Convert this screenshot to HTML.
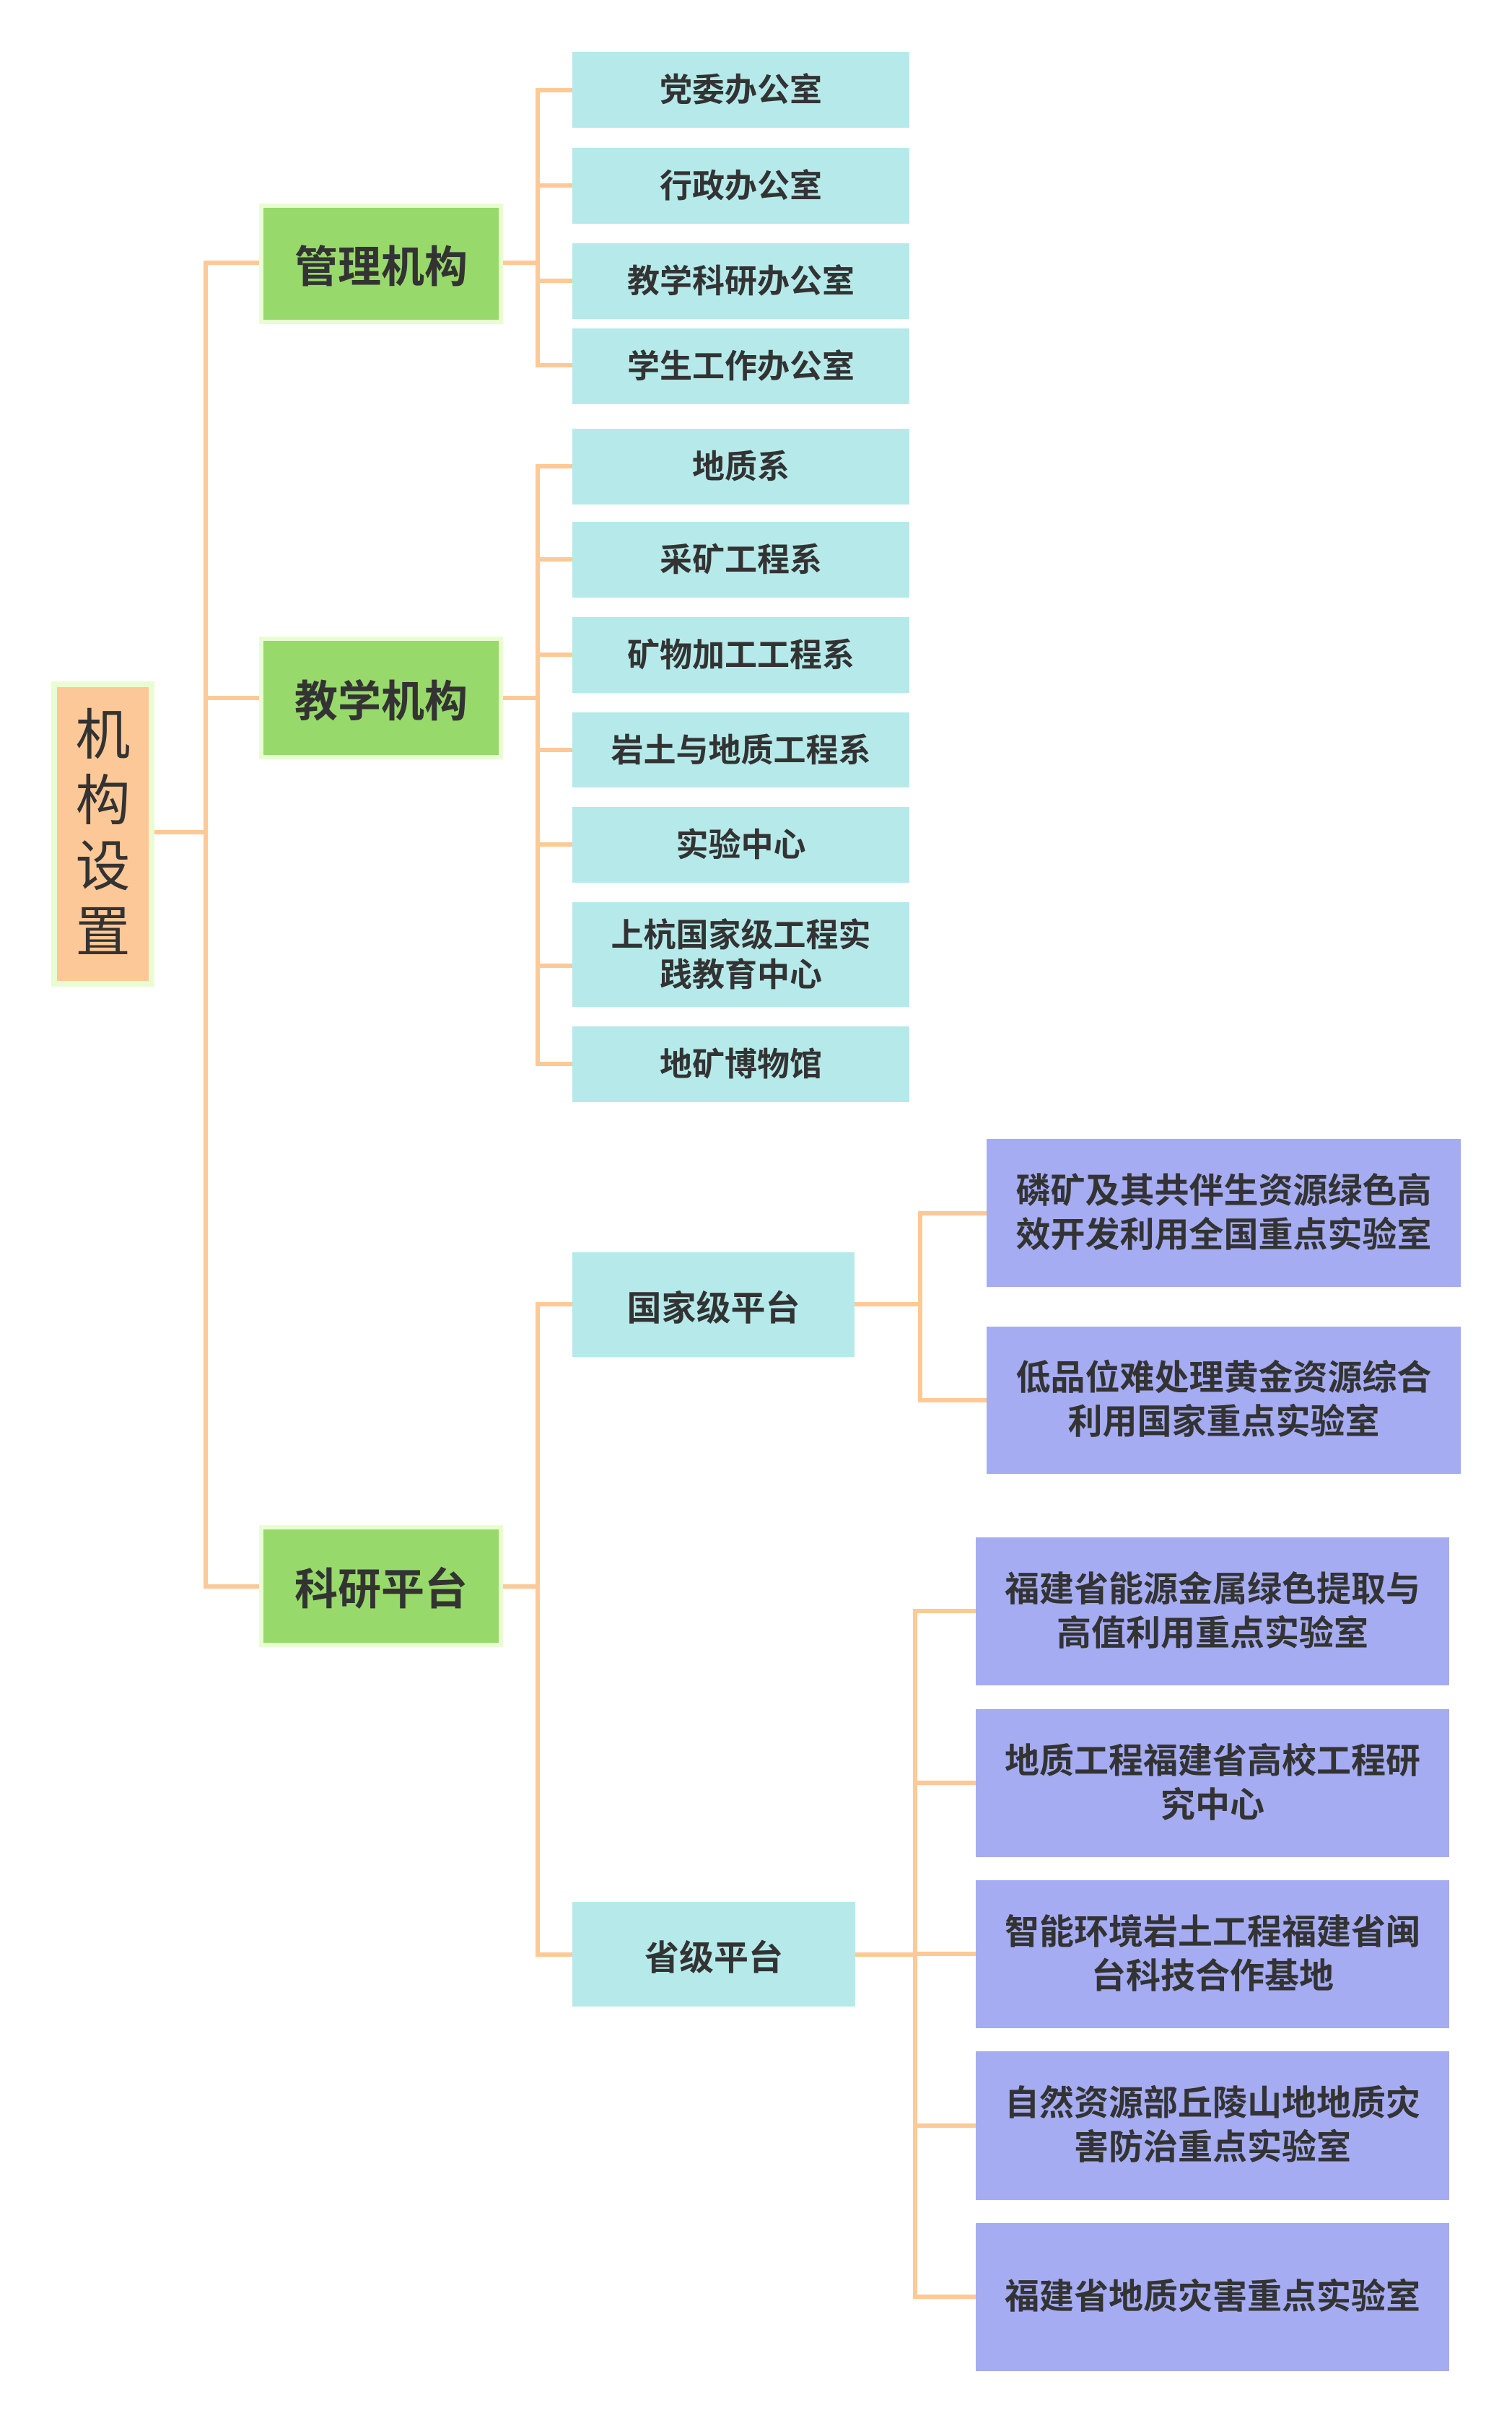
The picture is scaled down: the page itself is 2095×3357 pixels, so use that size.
<!DOCTYPE html>
<html>
<head>
<meta charset="utf-8">
<style>
html,body{margin:0;padding:0;background:#ffffff;}
body{width:2095px;height:3357px;position:relative;overflow:hidden;font-family:"Liberation Sans","Noto Sans CJK SC",sans-serif;color:#333333;}
.l{position:absolute;background:#fdc996;}
.box{position:absolute;display:flex;align-items:center;justify-content:center;text-align:center;box-sizing:border-box;font-weight:700;}
.g{background:#e9fdd3;padding:6px;}
.g > div{width:100%;height:100%;background:#97d96a;display:flex;align-items:center;justify-content:center;font-size:60px;font-weight:700;}
.c{background:#b6eaea;font-size:45px;line-height:55px;}
.p{background:#a5acf2;font-size:48px;line-height:61px;}
.s{background:#b6eaea;font-size:48px;}
</style>
</head>
<body>

<!-- root -->
<div class="box" style="left:71px;top:944px;width:143px;height:423px;background:#e9fdd3;padding:8px;">
  <div style="width:100%;height:100%;background:#fdc897;display:flex;align-items:center;justify-content:center;font-size:76px;line-height:91px;font-weight:400;color:#333;">机<br>构<br>设<br>置</div>
</div>

<!-- root connectors -->
<div class="l" style="left:214px;top:1150px;width:71px;height:6px;"></div>
<div class="l" style="left:282px;top:361px;width:6px;height:1840px;"></div>
<div class="l" style="left:282px;top:361px;width:77px;height:6px;"></div>
<div class="l" style="left:282px;top:964px;width:77px;height:6px;"></div>
<div class="l" style="left:282px;top:2195px;width:77px;height:6px;"></div>

<!-- level 1 -->
<div class="box g" style="left:359px;top:282px;width:338px;height:167px;"><div>管理机构</div></div>
<div class="box g" style="left:359px;top:882px;width:338px;height:170px;"><div>教学机构</div></div>
<div class="box g" style="left:359px;top:2113px;width:338px;height:169px;"><div>科研平台</div></div>

<!-- manage connectors -->
<div class="l" style="left:697px;top:361px;width:48px;height:6px;"></div>
<div class="l" style="left:742px;top:122px;width:6px;height:387px;"></div>
<div class="l" style="left:742px;top:122px;width:51px;height:6px;"></div>
<div class="l" style="left:742px;top:254px;width:51px;height:6px;"></div>
<div class="l" style="left:742px;top:386px;width:51px;height:6px;"></div>
<div class="l" style="left:742px;top:503px;width:51px;height:6px;"></div>

<div class="box c" style="left:793px;top:72px;width:467px;height:105px;">党委办公室</div>
<div class="box c" style="left:793px;top:205px;width:467px;height:105px;">行政办公室</div>
<div class="box c" style="left:793px;top:337px;width:467px;height:105px;">教学科研办公室</div>
<div class="box c" style="left:793px;top:455px;width:467px;height:105px;">学生工作办公室</div>

<!-- teaching connectors -->
<div class="l" style="left:697px;top:964px;width:48px;height:6px;"></div>
<div class="l" style="left:742px;top:643px;width:6px;height:834px;"></div>
<div class="l" style="left:742px;top:643px;width:51px;height:6px;"></div>
<div class="l" style="left:742px;top:772px;width:51px;height:6px;"></div>
<div class="l" style="left:742px;top:904px;width:51px;height:6px;"></div>
<div class="l" style="left:742px;top:1036px;width:51px;height:6px;"></div>
<div class="l" style="left:742px;top:1167px;width:51px;height:6px;"></div>
<div class="l" style="left:742px;top:1335px;width:51px;height:6px;"></div>
<div class="l" style="left:742px;top:1471px;width:51px;height:6px;"></div>

<div class="box c" style="left:793px;top:594px;width:467px;height:105px;">地质系</div>
<div class="box c" style="left:793px;top:723px;width:467px;height:105px;">采矿工程系</div>
<div class="box c" style="left:793px;top:855px;width:467px;height:105px;">矿物加工工程系</div>
<div class="box c" style="left:793px;top:987px;width:467px;height:104px;">岩土与地质工程系</div>
<div class="box c" style="left:793px;top:1118px;width:467px;height:105px;">实验中心</div>
<div class="box c" style="left:793px;top:1250px;width:467px;height:145px;">上杭国家级工程实<br>践教育中心</div>
<div class="box c" style="left:793px;top:1422px;width:467px;height:105px;">地矿博物馆</div>

<!-- research connectors -->
<div class="l" style="left:697px;top:2195px;width:48px;height:6px;"></div>
<div class="l" style="left:742px;top:1804px;width:6px;height:907px;"></div>
<div class="l" style="left:742px;top:1804px;width:51px;height:6px;"></div>
<div class="l" style="left:742px;top:2705px;width:51px;height:6px;"></div>

<div class="box s" style="left:793px;top:1735px;width:391px;height:145px;">国家级平台</div>
<div class="box s" style="left:793px;top:2635px;width:392px;height:145px;">省级平台</div>

<!-- national connectors -->
<div class="l" style="left:1184px;top:1804px;width:91px;height:6px;"></div>
<div class="l" style="left:1272px;top:1678px;width:6px;height:265px;"></div>
<div class="l" style="left:1272px;top:1678px;width:95px;height:6px;"></div>
<div class="l" style="left:1272px;top:1937px;width:95px;height:6px;"></div>

<div class="box p" style="left:1367px;top:1578px;width:657px;height:205px;">磷矿及其共伴生资源绿色高<br>效开发利用全国重点实验室</div>
<div class="box p" style="left:1367px;top:1838px;width:657px;height:204px;">低品位难处理黄金资源综合<br>利用国家重点实验室</div>

<!-- provincial connectors -->
<div class="l" style="left:1185px;top:2705px;width:83px;height:6px;"></div>
<div class="l" style="left:1265px;top:2229px;width:6px;height:956px;"></div>
<div class="l" style="left:1265px;top:2229px;width:87px;height:6px;"></div>
<div class="l" style="left:1265px;top:2467px;width:87px;height:6px;"></div>
<div class="l" style="left:1265px;top:2704px;width:87px;height:6px;"></div>
<div class="l" style="left:1265px;top:2942px;width:87px;height:6px;"></div>
<div class="l" style="left:1265px;top:3179px;width:87px;height:6px;"></div>

<div class="box p" style="left:1352px;top:2130px;width:656px;height:205px;">福建省能源金属绿色提取与<br>高值利用重点实验室</div>
<div class="box p" style="left:1352px;top:2368px;width:656px;height:205px;">地质工程福建省高校工程研<br>究中心</div>
<div class="box p" style="left:1352px;top:2605px;width:656px;height:205px;">智能环境岩土工程福建省闽<br>台科技合作基地</div>
<div class="box p" style="left:1352px;top:2842px;width:656px;height:206px;">自然资源部丘陵山地地质灾<br>害防治重点实验室</div>
<div class="box p" style="left:1352px;top:3080px;width:656px;height:205px;">福建省地质灾害重点实验室</div>

</body>
</html>
